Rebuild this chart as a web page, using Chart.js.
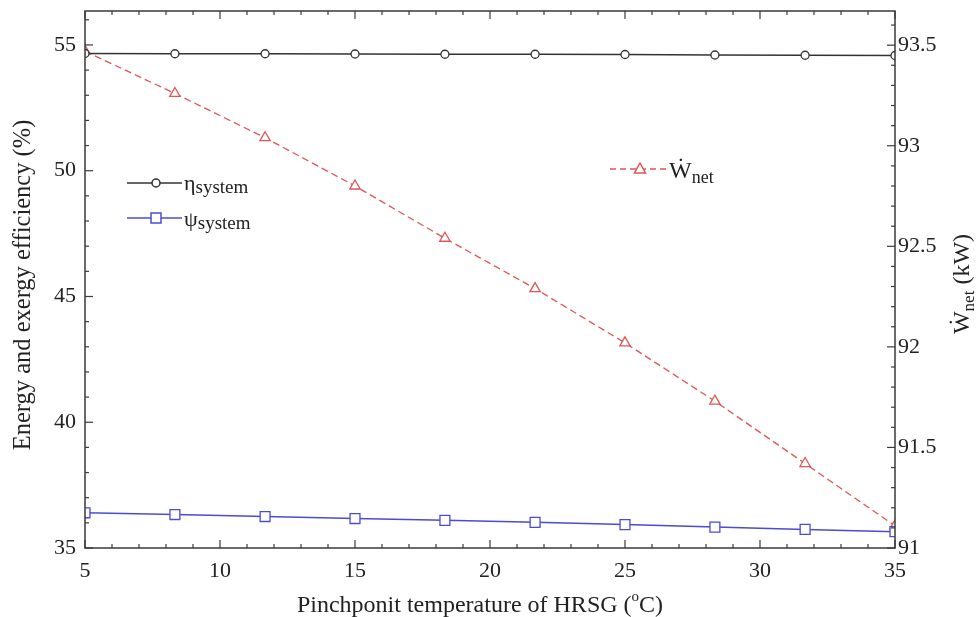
<!DOCTYPE html>
<html>
<head>
<meta charset="utf-8">
<script src="https://cdn.jsdelivr.net/npm/chart.js@4.4.1/dist/chart.umd.min.js"></script>
<style>
  body { margin: 0; background: #fff; }
  #wrap { width: 976px; height: 617px; }
</style>
</head>
<body>
<div id="wrap"><canvas id="chart-hrsg" width="976" height="617"></canvas></div>
<script>
// pinch point temperature (°C)
var temps = [5, 8.33, 11.67, 15, 18.33, 21.67, 25, 28.33, 31.67, 35];
// efficiencies (%)
var etaSystem = [54.66, 54.65, 54.65, 54.64, 54.63, 54.63, 54.62, 54.60, 54.59, 54.58];
var psiSystem = [36.40, 36.33, 36.25, 36.17, 36.10, 36.02, 35.93, 35.83, 35.74, 35.65];
// net power (kW)
var wNet = [93.47, 93.26, 93.04, 92.80, 92.54, 92.29, 92.02, 91.73, 91.42, 91.11];

var xTicks = [5, 10, 15, 20, 25, 30, 35];
var leftTicks = [35, 40, 45, 50, 55];
var rightTicks = [91, 91.5, 92, 92.5, 93, 93.5];

var FONT = '"Liberation Serif", "DejaVu Serif", serif';
var AXIS = '#3a3a3a';

function pts(ys) {
    return temps.map(function (t, i) { return { x: t, y: ys[i] }; });
}

function line(ctx, x1, y1, x2, y2) {
    ctx.beginPath(); ctx.moveTo(x1, y1); ctx.lineTo(x2, y2); ctx.stroke();
}

// frame, inward ticks, legends and axis titles
var decor = {
    id: 'decor',
    afterDraw: function (chart) {
        var ctx = chart.ctx, a = chart.chartArea, s = chart.scales;
        ctx.save();
        ctx.strokeStyle = AXIS;
        ctx.lineWidth = 1.5;
        ctx.strokeRect(a.left, a.top, a.right - a.left, a.bottom - a.top);
        ctx.lineWidth = 1.2;
        var v, p, len;
        for (v = 5; v <= 35; v += 1) {
            p = s.x.getPixelForValue(v);
            len = v % 5 === 0 ? 8 : 4;
            line(ctx, p, a.bottom, p, a.bottom - len);
            line(ctx, p, a.top, p, a.top + len);
        }
        for (v = 35; v <= 56; v += 1) {
            p = s.y.getPixelForValue(v);
            len = v % 5 === 0 ? 8 : 4;
            line(ctx, a.left, p, a.left + len, p);
        }
        for (v = 910; v <= 936; v += 1) {
            p = s.y1.getPixelForValue(v / 10);
            len = v % 5 === 0 ? 8 : 4;
            line(ctx, a.right, p, a.right - len, p);
        }

        // legend: eta / psi
        ctx.lineWidth = 1.5;
        ctx.strokeStyle = '#333';
        line(ctx, 127, 183, 182, 183);
        ctx.fillStyle = '#fff';
        ctx.beginPath(); ctx.arc(156, 183, 4, 0, Math.PI * 2); ctx.fill(); ctx.stroke();
        ctx.strokeStyle = '#4b4bd6';
        line(ctx, 127, 218, 182, 218);
        ctx.fillRect(151, 213, 10, 10); ctx.strokeRect(151, 213, 10, 10);

        ctx.fillStyle = '#222';
        ctx.textBaseline = 'alphabetic';
        ctx.textAlign = 'left';
        ctx.font = '22px ' + FONT;
        ctx.fillText('η', 184, 190);
        var w = ctx.measureText('η').width;
        ctx.font = '19px ' + FONT;
        ctx.fillText('system', 184 + w, 193);
        ctx.font = '22px ' + FONT;
        ctx.fillText('ψ', 184, 226);
        w = ctx.measureText('ψ').width;
        ctx.font = '19px ' + FONT;
        ctx.fillText('system', 184 + w, 229);

        // legend: W net
        ctx.strokeStyle = '#e05555';
        ctx.setLineDash([6, 4]);
        line(ctx, 610, 169, 668, 169);
        ctx.setLineDash([]);
        ctx.fillStyle = '#fff';
        ctx.beginPath();
        ctx.moveTo(640, 163); ctx.lineTo(645.5, 173); ctx.lineTo(634.5, 173); ctx.closePath();
        ctx.fill(); ctx.stroke();
        ctx.fillStyle = '#222';
        ctx.font = '24px ' + FONT;
        ctx.fillText('Ẇ', 669, 178);
        w = ctx.measureText('Ẇ').width;
        ctx.font = '18px ' + FONT;
        ctx.fillText('net', 669 + w, 183);

        // x title
        ctx.font = '24px ' + FONT;
        var t1 = 'Pinchponit temperature of HRSG (', t3 = 'C)';
        var w1 = ctx.measureText(t1).width, w3 = ctx.measureText(t3).width;
        ctx.font = '15px ' + FONT;
        var w2 = ctx.measureText('o').width;
        var x0 = 480 - (w1 + w2 + w3) / 2;
        ctx.font = '24px ' + FONT;
        ctx.fillText(t1, x0, 612);
        ctx.font = '15px ' + FONT;
        ctx.fillText('o', x0 + w1, 601);
        ctx.font = '24px ' + FONT;
        ctx.fillText(t3, x0 + w1 + w2, 612);

        // left title
        ctx.save();
        ctx.translate(30, 285);
        ctx.rotate(-Math.PI / 2);
        ctx.textAlign = 'center';
        ctx.font = '24.5px ' + FONT;
        ctx.fillText('Energy and exergy efficiency (%)', 0, 0);
        ctx.restore();

        // right title
        ctx.save();
        ctx.translate(969, 284);
        ctx.rotate(-Math.PI / 2);
        ctx.textAlign = 'left';
        ctx.font = '24px ' + FONT;
        var wa = ctx.measureText('Ẇ').width;
        var wc = ctx.measureText(' (kW)').width;
        ctx.font = '17px ' + FONT;
        var wb = ctx.measureText('net').width;
        var sx = -(wa + wb + wc) / 2;
        ctx.font = '24px ' + FONT;
        ctx.fillText('Ẇ', sx, 0);
        ctx.font = '17px ' + FONT;
        ctx.fillText('net', sx + wa, 5);
        ctx.font = '24px ' + FONT;
        ctx.fillText(' (kW)', sx + wa + wb, 0);
        ctx.restore();

        ctx.restore();
    }
};

function fixTicks(list) {
    return function (scale) {
        scale.ticks = list.map(function (v) { return { value: v }; });
    };
}

// fixed box sizes, no label overflow padding
function fitX(sc) { sc.height = 69; sc.paddingLeft = 0; sc.paddingRight = 0; }
function fitY(w) {
    return function (sc) { sc.width = w; sc.paddingTop = 0; sc.paddingBottom = 0; };
}

var tickFont = { family: FONT, size: 22 };

function drawHrsgChart() {
    var ctx = document.getElementById('chart-hrsg').getContext('2d');
    var chart = new Chart(ctx, {
        type: 'line',
        data: {
            datasets: [{
                label: 'eta_system',
                data: pts(etaSystem),
                yAxisID: 'y',
                borderColor: '#333',
                borderWidth: 1.5,
                backgroundColor: '#fff',
                pointStyle: 'circle',
                pointRadius: 4,
                pointBorderWidth: 1.3
            }, {
                label: 'psi_system',
                data: pts(psiSystem),
                yAxisID: 'y',
                borderColor: '#4b4bd6',
                borderWidth: 1.5,
                backgroundColor: '#fff',
                pointStyle: 'rect',
                pointRadius: 7,
                pointBorderWidth: 1.3
            }, {
                label: 'W_net',
                data: pts(wNet),
                yAxisID: 'y1',
                borderColor: '#e05555',
                borderWidth: 1.3,
                borderDash: [7, 4],
                backgroundColor: '#fff',
                pointStyle: 'triangle',
                pointRadius: 6,
                pointBorderWidth: 1.3
            }]
        },
        options: {
            responsive: false,
            animation: false,
            layout: { padding: { top: 11, left: 0, right: 0, bottom: 0 } },
            plugins: { legend: { display: false }, tooltip: { enabled: false } },
            scales: {
                x: {
                    type: 'linear',
                    min: 5, max: 35,
                    afterBuildTicks: fixTicks(xTicks),
                    afterFit: fitX,
                    grid: { display: false, drawTicks: false },
                    border: { display: false },
                    ticks: {
                        padding: 10,
                        color: '#222',
                        font: tickFont,
                        callback: function (v) { return String(v); }
                    }
                },
                y: {
                    position: 'left',
                    min: 35, max: 56.35,
                    afterBuildTicks: fixTicks(leftTicks),
                    afterFit: fitY(85),
                    grid: { display: false, drawTicks: false },
                    border: { display: false },
                    ticks: {
                        padding: 9,
                        color: '#222',
                        font: tickFont,
                        callback: function (v) { return String(v); }
                    }
                },
                y1: {
                    position: 'right',
                    min: 91, max: 93.67,
                    afterBuildTicks: fixTicks(rightTicks),
                    afterFit: fitY(81),
                    grid: { display: false, drawTicks: false },
                    border: { display: false },
                    ticks: {
                        padding: 3,
                        color: '#222',
                        font: tickFont,
                        callback: function (v) { return String(v); }
                    }
                }
            }
        },
        plugins: [decor]
    });
}

drawHrsgChart();
</script>
</body>
</html>
